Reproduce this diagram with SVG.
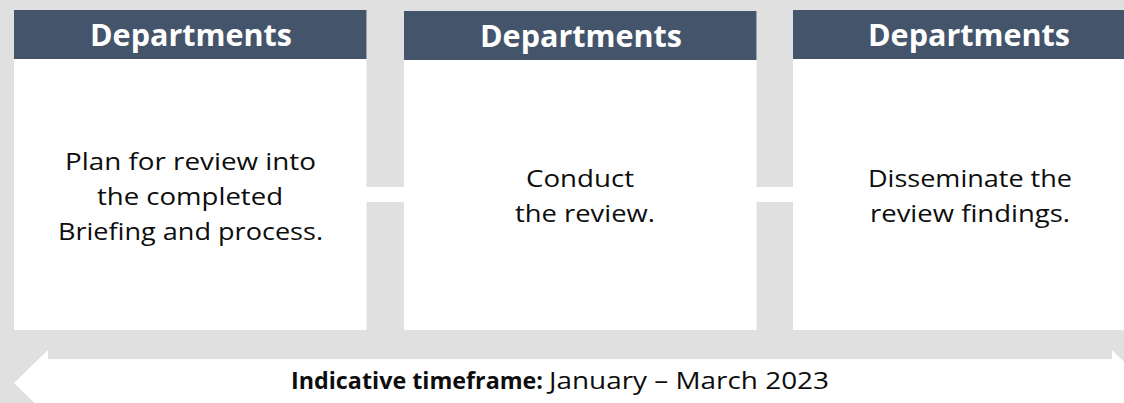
<svg xmlns="http://www.w3.org/2000/svg" width="1124" height="403" viewBox="0 0 1124 403">
<style>
.bg{fill:#E0E0E0}
.box{fill:#FFFFFF}
.hdr{fill:#44546A}
.ht{font-family:"Open Sans","Liberation Sans",sans-serif;font-weight:bold;font-size:30px;fill:#FFFFFF}
.bt{font-family:"Open Sans","Liberation Sans",sans-serif;font-size:23.5px;fill:#0D0D0D}
.bb{font-weight:bold}
.conn{fill:#FFFFFF}
</style>
<rect class="bg" x="0" y="0" width="1124" height="403"/>
<polygon id="timeline" class="box" points="14,383 48,350 48,359 1112,359 1112,350 1146,383 1112,416 1112,407 48,407 48,416"/>
<g id="connectors">
<rect class="conn" x="365" y="187" width="40" height="15"/>
<rect class="conn" x="756" y="187" width="38" height="15"/>
</g>
<g id="node1">
<rect class="box" x="14" y="10" width="352.5" height="320"/>
<rect class="hdr" x="14" y="10" width="352.5" height="49"/>
<text class="ht" x="90" y="46" textLength="202" lengthAdjust="spacingAndGlyphs">Departments</text>
<text class="bt" x="65" y="170" textLength="251" lengthAdjust="spacingAndGlyphs">Plan for review into</text>
<text class="bt" x="97" y="205" textLength="186" lengthAdjust="spacingAndGlyphs">the completed</text>
<text class="bt" x="58" y="240" textLength="265" lengthAdjust="spacingAndGlyphs">Briefing and process.</text>
</g>
<g id="node2">
<rect class="box" x="404" y="11" width="352.5" height="319"/>
<rect class="hdr" x="404" y="11" width="352.5" height="49"/>
<text class="ht" x="480" y="47" textLength="202" lengthAdjust="spacingAndGlyphs">Departments</text>
<text class="bt" x="526" y="187" textLength="108" lengthAdjust="spacingAndGlyphs">Conduct</text>
<text class="bt" x="515" y="222" textLength="140" lengthAdjust="spacingAndGlyphs">the review.</text>
</g>
<g id="node3">
<rect class="box" x="793" y="10" width="353" height="320"/>
<rect class="hdr" x="793" y="10" width="353" height="49"/>
<text class="ht" x="868" y="46" textLength="202" lengthAdjust="spacingAndGlyphs">Departments</text>
<text class="bt" x="868" y="187" textLength="204" lengthAdjust="spacingAndGlyphs">Disseminate the</text>
<text class="bt" x="870" y="222" textLength="200" lengthAdjust="spacingAndGlyphs">review findings.</text>
</g>
<g id="timeframe-label">
<text class="bt bb" x="291" y="389" textLength="252" lengthAdjust="spacingAndGlyphs">Indicative timeframe:</text>
<text class="bt" x="549" y="389" textLength="280" lengthAdjust="spacingAndGlyphs">January – March 2023</text>
</g>
</svg>
